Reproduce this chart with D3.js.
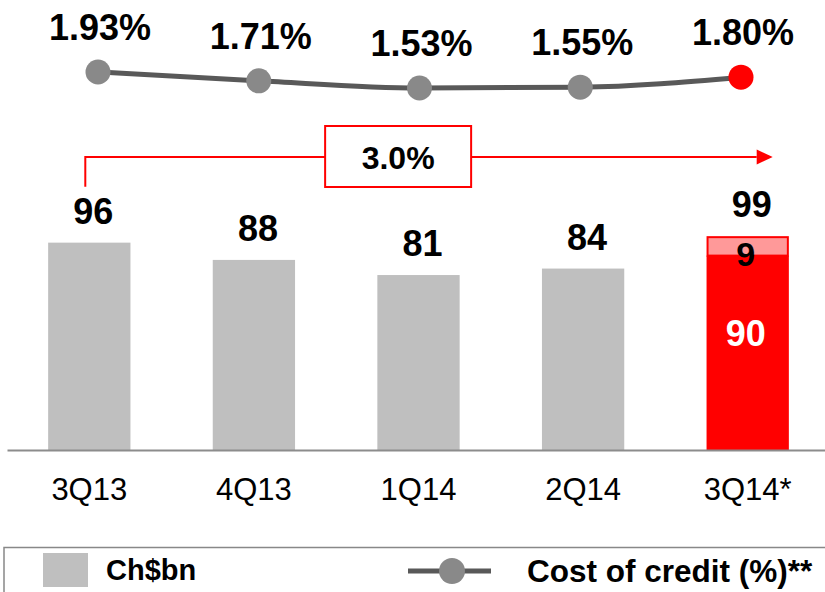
<!DOCTYPE html>
<html>
<head>
<meta charset="utf-8">
<script src="https://cdn.jsdelivr.net/npm/d3@7"></script>
<style>
  html, body { margin: 0; padding: 0; background: #fff; }
  text { font-family: "Liberation Sans", Arial, sans-serif; }
</style>
</head>
<body>
<svg id="chart" width="825" height="592"></svg>
<script>
// quarters shown on the x axis
const quarters = ["3Q13", "4Q13", "1Q14", "2Q14", "3Q14*"];
// loan book, Ch$bn
const loans = [96, 88, 81, 84, 99];
// split of the last quarter: organic part and the added part
const lastBase = 90;
const lastExtra = 9;
// cost of credit, %
const costOfCredit = [1.93, 1.71, 1.53, 1.55, 1.80];
// growth annotation
const growthLabel = "3.0%";

const svg = d3.select("#chart");
const red = "#ff0000";
const grey = "#bfbfbf";

// scales for the bars
const x = d3.scaleBand()
    .domain(quarters)
    .range([7, 830])
    .paddingInner(0.5)
    .paddingOuter(0.25);

const y = d3.scaleLinear()
    .domain([0, 100])
    .range([450, 234]);

// scales for the cost-of-credit line (sits above the bars)
const xl = d3.scalePoint()
    .domain(quarters)
    .range([98, 741]);

const yl = d3.scaleLinear()
    .domain([1.5, 2.0])
    .range([89.2, 69.2]);

// bars (all but last are plain grey)
svg.selectAll(".bar")
    .data(loans.slice(0, 4))
    .enter().append("rect")
    .attr("class", "bar")
    .attr("x", (d, i) => x(quarters[i]))
    .attr("y", d => y(d))
    .attr("width", x.bandwidth())
    .attr("height", d => y(0) - y(d))
    .attr("fill", grey);

// last bar, stacked
const lastQ = quarters[4];
svg.append("rect")
    .attr("x", x(lastQ))
    .attr("y", y(lastBase))
    .attr("width", x.bandwidth())
    .attr("height", y(0) - y(lastBase))
    .attr("fill", red);

svg.append("rect")
    .attr("x", x(lastQ) + 1)
    .attr("y", y(lastBase + lastExtra) + 1)
    .attr("width", x.bandwidth() - 2)
    .attr("height", y(lastBase) - y(lastBase + lastExtra) - 1)
    .attr("fill", "#ff9999")
    .attr("stroke", red)
    .attr("stroke-width", 2);

// value labels above bars
svg.selectAll(".bar-label")
    .data(loans)
    .enter().append("text")
    .attr("class", "bar-label")
    .attr("x", (d, i) => x(quarters[i]) + x.bandwidth() / 2 + 4)
    .attr("y", d => y(d) - 19)
    .attr("text-anchor", "middle")
    .style("font-size", "36px")
    .style("font-weight", "bold")
    .text(d => d);

// labels inside the stacked bar
svg.append("text")
    .attr("x", x(lastQ) + x.bandwidth() / 2 - 2)
    .attr("y", y(lastBase) + 90)
    .attr("text-anchor", "middle")
    .attr("fill", "#fff")
    .style("font-size", "36px")
    .style("font-weight", "bold")
    .text(lastBase);

svg.append("text")
    .attr("x", x(lastQ) + x.bandwidth() / 2 - 2)
    .attr("y", y(lastBase) + 10)
    .attr("text-anchor", "middle")
    .style("font-size", "34px")
    .style("font-weight", "bold")
    .text(lastExtra);

// x axis
const axis = svg.append("g")
    .attr("transform", `translate(0,${y(0)})`)
    .call(d3.axisBottom(x).tickSize(0).tickSizeOuter(0));

axis.select(".domain")
    .attr("stroke", "#8c8c8c")
    .attr("stroke-width", 2);

axis.selectAll(".tick text")
    .attr("y", 50)
    .attr("dy", 0)
    .attr("fill", "#000")
    .style("font-family", '"Liberation Sans", Arial, sans-serif')
    .style("font-size", "31px");

// growth arrow with boxed label
const arrowY = 157;
const arrowStart = x(quarters[0]) + x.bandwidth() / 2 - 4;
const arrowEnd = x(lastQ) + x.bandwidth() / 2 + 9;

svg.append("path")
    .attr("d", `M${arrowStart},${y(loans[0]) - 56}V${arrowY}H${arrowEnd}`)
    .attr("fill", "none")
    .attr("stroke", red)
    .attr("stroke-width", 2);

svg.append("path")
    .attr("d", `M${arrowEnd},${arrowY - 7.5}L${arrowEnd + 16},${arrowY}L${arrowEnd},${arrowY + 7.5}Z`)
    .attr("fill", red);

const boxCx = (xl(quarters[1]) + xl(quarters[2])) / 2 + 59;
svg.append("rect")
    .attr("x", boxCx - 73)
    .attr("y", 126)
    .attr("width", 146)
    .attr("height", 61)
    .attr("fill", "#fff")
    .attr("stroke", red)
    .attr("stroke-width", 2);

svg.append("text")
    .attr("x", boxCx)
    .attr("y", 168.5)
    .attr("text-anchor", "middle")
    .style("font-size", "32px")
    .style("font-weight", "bold")
    .text(growthLabel);

// cost of credit line
const line = d3.line()
    .x((d, i) => xl(quarters[i]))
    .y(d => yl(d))
    .curve(d3.curveMonotoneX);

svg.append("path")
    .datum(costOfCredit)
    .attr("d", line)
    .attr("fill", "none")
    .attr("stroke", "#595959")
    .attr("stroke-width", 5);

svg.selectAll(".dot")
    .data(costOfCredit)
    .enter().append("circle")
    .attr("class", "dot")
    .attr("cx", (d, i) => xl(quarters[i]))
    .attr("cy", d => yl(d))
    .attr("r", 12.5)
    .attr("fill", (d, i) => i === costOfCredit.length - 1 ? red : "#898989");

svg.selectAll(".pct")
    .data(costOfCredit)
    .enter().append("text")
    .attr("class", "pct")
    .attr("x", (d, i) => xl(quarters[i]) + 2)
    .attr("y", d => yl(d) - 32)
    .attr("text-anchor", "middle")
    .style("font-size", "36px")
    .style("font-weight", "bold")
    .text(d => d.toFixed(2) + "%");

// legend
const legend = svg.append("g");

legend.append("rect")
    .attr("x", 4)
    .attr("y", 547.5)
    .attr("width", 840)
    .attr("height", 60)
    .attr("fill", "none")
    .attr("stroke", "#888")
    .attr("stroke-width", 1.5);

legend.append("rect")
    .attr("x", 43)
    .attr("y", 553)
    .attr("width", 45)
    .attr("height", 34)
    .attr("fill", grey);

legend.append("text")
    .attr("x", 106)
    .attr("y", 580)
    .style("font-size", "29px")
    .style("font-weight", "bold")
    .text("Ch$bn");

legend.append("line")
    .attr("x1", 408)
    .attr("x2", 491)
    .attr("y1", 571)
    .attr("y2", 571)
    .attr("stroke", "#595959")
    .attr("stroke-width", 5);

legend.append("circle")
    .attr("cx", 452)
    .attr("cy", 571)
    .attr("r", 13)
    .attr("fill", "#898989");

legend.append("text")
    .attr("x", 527)
    .attr("y", 582)
    .style("font-size", "31.5px")
    .style("font-weight", "bold")
    .text("Cost of credit (%)**");
</script>
</body>
</html>
